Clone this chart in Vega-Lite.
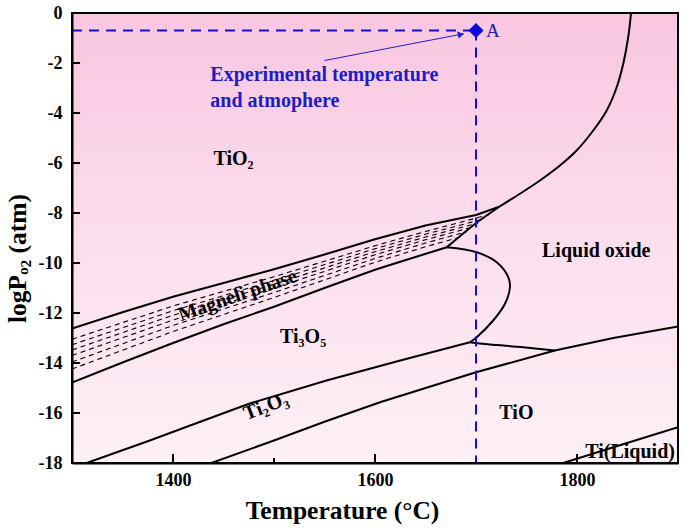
{
  "$schema": "https://vega.github.io/schema/vega-lite/v6.json",
  "width": 606,
  "height": 450,
  "autosize": {"type": "none"},
  "padding": {"left": 72, "top": 13, "right": 7, "bottom": 65},
  "background": "white",
  "config": {
    "view": {"stroke": null},
    "font": "Liberation Serif",
    "axis": {
      "grid": false,
      "domainColor": "black",
      "domainWidth": 2,
      "tickColor": "black",
      "tickWidth": 2,
      "labelFont": "Liberation Serif",
      "labelFontWeight": "bold",
      "labelFontSize": 18,
      "labelColor": "black",
      "titleFont": "Liberation Serif",
      "titleFontWeight": "bold",
      "titleFontSize": 25.5,
      "titleColor": "black"
    }
  },
  "datasets": {
    "bg": [{"T": 1300, "T2": 1900, "P": 0, "P2": -18}],
    "curves": [
      {"id": "c1", "o": 1, "T": 1300, "P": -12.62},
      {"id": "c1", "o": 2, "T": 1350, "P": -11.97},
      {"id": "c1", "o": 3, "T": 1400, "P": -11.35},
      {"id": "c1", "o": 4, "T": 1450, "P": -10.8},
      {"id": "c1", "o": 5, "T": 1500, "P": -10.25},
      {"id": "c1", "o": 6, "T": 1550, "P": -9.66},
      {"id": "c1", "o": 7, "T": 1600, "P": -9.05},
      {"id": "c1", "o": 8, "T": 1650, "P": -8.5},
      {"id": "c1", "o": 9, "T": 1700, "P": -8.08},
      {"id": "c1", "o": 10, "T": 1723, "P": -7.75},
      {"id": "c2", "o": 1, "T": 1300, "P": -14.78},
      {"id": "c2", "o": 2, "T": 1350, "P": -13.98},
      {"id": "c2", "o": 3, "T": 1400, "P": -13.2},
      {"id": "c2", "o": 4, "T": 1450, "P": -12.45},
      {"id": "c2", "o": 5, "T": 1500, "P": -11.75},
      {"id": "c2", "o": 6, "T": 1550, "P": -11.0},
      {"id": "c2", "o": 7, "T": 1600, "P": -10.27},
      {"id": "c2", "o": 8, "T": 1625, "P": -9.95},
      {"id": "c2", "o": 9, "T": 1671, "P": -9.37},
      {"id": "c2", "o": 10, "T": 1687, "P": -8.83},
      {"id": "c2", "o": 11, "T": 1701, "P": -8.37},
      {"id": "c2", "o": 12, "T": 1723, "P": -7.75},
      {"id": "c5", "o": 1, "T": 1314.5, "P": -18},
      {"id": "c5", "o": 2, "T": 1377, "P": -17.1},
      {"id": "c5", "o": 3, "T": 1427, "P": -16.35},
      {"id": "c5", "o": 4, "T": 1476, "P": -15.62},
      {"id": "c5", "o": 5, "T": 1552, "P": -14.7},
      {"id": "c5", "o": 6, "T": 1625, "P": -13.9},
      {"id": "c5", "o": 7, "T": 1694, "P": -13.17},
      {"id": "c6", "o": 1, "T": 1438, "P": -18},
      {"id": "c6", "o": 2, "T": 1500, "P": -17.1},
      {"id": "c6", "o": 3, "T": 1550, "P": -16.35},
      {"id": "c6", "o": 4, "T": 1605, "P": -15.57},
      {"id": "c6", "o": 5, "T": 1700, "P": -14.37},
      {"id": "c6", "o": 6, "T": 1778, "P": -13.5},
      {"id": "c6", "o": 7, "T": 1836, "P": -13.0},
      {"id": "c6", "o": 8, "T": 1900, "P": -12.54},
      {"id": "c8", "o": 1, "T": 1786.4, "P": -18},
      {"id": "c8", "o": 2, "T": 1836, "P": -17.37},
      {"id": "c8", "o": 3, "T": 1900, "P": -16.57}
    ],
    "smooth": [
      {"id": "c3", "o": 1, "T": 1723, "P": -7.75},
      {"id": "c3", "o": 2, "T": 1743.5, "P": -7.23},
      {"id": "c3", "o": 3, "T": 1763.3, "P": -6.7},
      {"id": "c3", "o": 4, "T": 1783.1, "P": -6.1},
      {"id": "c3", "o": 5, "T": 1799.6, "P": -5.5},
      {"id": "c3", "o": 6, "T": 1816.1, "P": -4.7},
      {"id": "c3", "o": 7, "T": 1829.4, "P": -3.9},
      {"id": "c3", "o": 8, "T": 1839.3, "P": -2.97},
      {"id": "c3", "o": 9, "T": 1845.8, "P": -2.03},
      {"id": "c3", "o": 10, "T": 1850.7, "P": -0.97},
      {"id": "c3", "o": 11, "T": 1853.5, "P": 0},
      {"id": "c4", "o": 1, "T": 1671, "P": -9.37},
      {"id": "c4", "o": 2, "T": 1700.7, "P": -9.57},
      {"id": "c4", "o": 3, "T": 1720.5, "P": -9.97},
      {"id": "c4", "o": 4, "T": 1732, "P": -10.57},
      {"id": "c4", "o": 5, "T": 1733.6, "P": -10.97},
      {"id": "c4", "o": 6, "T": 1728.7, "P": -11.63},
      {"id": "c4", "o": 7, "T": 1717, "P": -12.3},
      {"id": "c4", "o": 8, "T": 1700.7, "P": -12.97},
      {"id": "c4", "o": 9, "T": 1694, "P": -13.17},
      {"id": "c7", "o": 1, "T": 1694, "P": -13.17},
      {"id": "c7", "o": 2, "T": 1700.7, "P": -13.21},
      {"id": "c7", "o": 3, "T": 1746.8, "P": -13.37},
      {"id": "c7", "o": 4, "T": 1778, "P": -13.5}
    ],
    "magneli": [
      {"id": "d1", "o": 1, "T": 1300, "P": -13.05},
      {"id": "d1", "o": 2, "T": 1400, "P": -11.72},
      {"id": "d1", "o": 3, "T": 1500, "P": -10.55},
      {"id": "d1", "o": 4, "T": 1600, "P": -9.31},
      {"id": "d1", "o": 5, "T": 1650, "P": -8.74},
      {"id": "d1", "o": 6, "T": 1712.6, "P": -8.07},
      {"id": "d2", "o": 1, "T": 1300, "P": -13.27},
      {"id": "d2", "o": 2, "T": 1400, "P": -11.91},
      {"id": "d2", "o": 3, "T": 1500, "P": -10.7},
      {"id": "d2", "o": 4, "T": 1600, "P": -9.43},
      {"id": "d2", "o": 5, "T": 1650, "P": -8.85},
      {"id": "d2", "o": 6, "T": 1707.4, "P": -8.24},
      {"id": "d3", "o": 1, "T": 1300, "P": -13.48},
      {"id": "d3", "o": 2, "T": 1400, "P": -12.09},
      {"id": "d3", "o": 3, "T": 1500, "P": -10.85},
      {"id": "d3", "o": 4, "T": 1600, "P": -9.55},
      {"id": "d3", "o": 5, "T": 1650, "P": -8.96},
      {"id": "d3", "o": 6, "T": 1702.2, "P": -8.4},
      {"id": "d4", "o": 1, "T": 1300, "P": -13.7},
      {"id": "d4", "o": 2, "T": 1400, "P": -12.28},
      {"id": "d4", "o": 3, "T": 1500, "P": -11.0},
      {"id": "d4", "o": 4, "T": 1600, "P": -9.67},
      {"id": "d4", "o": 5, "T": 1650, "P": -9.07},
      {"id": "d4", "o": 6, "T": 1697, "P": -8.56},
      {"id": "d5", "o": 1, "T": 1300, "P": -13.96},
      {"id": "d5", "o": 2, "T": 1400, "P": -12.5},
      {"id": "d5", "o": 3, "T": 1500, "P": -11.18},
      {"id": "d5", "o": 4, "T": 1600, "P": -9.82},
      {"id": "d5", "o": 5, "T": 1650, "P": -9.2},
      {"id": "d5", "o": 6, "T": 1690.8, "P": -8.75},
      {"id": "d6", "o": 1, "T": 1300, "P": -14.24},
      {"id": "d6", "o": 2, "T": 1400, "P": -12.74},
      {"id": "d6", "o": 3, "T": 1500, "P": -11.38},
      {"id": "d6", "o": 4, "T": 1600, "P": -9.97},
      {"id": "d6", "o": 5, "T": 1650, "P": -9.35},
      {"id": "d6", "o": 6, "T": 1684, "P": -8.97}
    ],
    "guide": [
      {"id": "h", "o": 1, "T": 1300, "P": -0.7},
      {"id": "h", "o": 2, "T": 1700, "P": -0.7},
      {"id": "v", "o": 1, "T": 1700, "P": -0.7},
      {"id": "v", "o": 2, "T": 1700, "P": -18}
    ],
    "arrow": [
      {"o": 1, "T": 1550, "P": -1.9},
      {"o": 2, "T": 1688, "P": -0.83}
    ],
    "arrowhead": [{"T": 1685, "P": -0.86}],
    "pointA": [{"T": 1700, "P": -0.7, "label": "A"}],
    "ticks": [
      {"T": 1300, "T2": 1308, "P": 0},
      {"T": 1300, "T2": 1308, "P": -2},
      {"T": 1300, "T2": 1308, "P": -4},
      {"T": 1300, "T2": 1308, "P": -6},
      {"T": 1300, "T2": 1308, "P": -8},
      {"T": 1300, "T2": 1308, "P": -10},
      {"T": 1300, "T2": 1308, "P": -12},
      {"T": 1300, "T2": 1308, "P": -14},
      {"T": 1300, "T2": 1308, "P": -16}
    ],
    "xTicks": [
      {"T": 1400, "P": -18, "P2": -17.64},
      {"T": 1500, "P": -18, "P2": -17.8},
      {"T": 1600, "P": -18, "P2": -17.64},
      {"T": 1700, "P": -18, "P2": -17.8},
      {"T": 1800, "P": -18, "P2": -17.64}
    ],
    "blueText": [
      {"T": 1437, "P": -2.46, "label": "Experimental temperature"},
      {"T": 1437, "P": -3.5, "label": "and atmophere"}
    ],
    "leftText": [
      {"T": 1440, "P": -5.85, "label": "TiO₂"},
      {"T": 1506, "P": -12.95, "label": "Ti₃O₅"}
    ],
    "centerText": [
      {"T": 1819, "P": -9.5, "label": "Liquid oxide"},
      {"T": 1740, "P": -16.0, "label": "TiO"}
    ],
    "rightText": [
      {"T": 1897, "P": -17.55, "label": "Ti(Liquid)"}
    ],
    "magneliText": [
      {"T": 1464, "P": -11.3, "label": "Magneli phase"}
    ],
    "ti2o3Text": [
      {"T": 1492, "P": -15.74, "label": "Ti₂O₃"}
    ]
  },
  "encoding": {
    "x": {
      "field": "T",
      "type": "quantitative",
      "scale": {"domain": [1300, 1900], "nice": false, "zero": false},
      "axis": {
        "title": "Temperature (°C)",
        "values": [1400, 1600, 1800],
        "format": "d",
        "ticks": false,
        "labelPadding": 8,
        "titlePadding": 9,
        "titleX": 270,
        "zindex": 1
      }
    },
    "y": {
      "field": "P",
      "type": "quantitative",
      "scale": {"domain": [-18, 0], "nice": false, "zero": false},
      "axis": {
        "title": "logPₒ₂ (atm)",
        "values": [0, -2, -4, -6, -8, -10, -12, -14, -16, -18],
        "labelExpr": "datum.value == 0 ? '0' : '-' + abs(datum.value)",
        "ticks": false,
        "labelPadding": 10,
        "titlePadding": 8,
        "titleY": 245,
        "zindex": 1
      }
    }
  },
  "layer": [
    {
      "data": {"name": "bg"},
      "mark": {
        "type": "rect",
        "stroke": "black",
        "strokeWidth": 2,
        "color": {
          "gradient": "linear",
          "x1": 0, "y1": 0, "x2": 0, "y2": 1,
          "stops": [
            {"offset": 0, "color": "#f9c6e0"},
            {"offset": 0.5, "color": "#fcdeed"},
            {"offset": 1, "color": "#fdf0f6"}
          ]
        }
      },
      "encoding": {
        "x2": {"field": "T2"},
        "y2": {"field": "P2"}
      }
    },
    {
      "data": {"name": "magneli"},
      "mark": {"type": "line", "color": "black", "strokeWidth": 1.1, "strokeDash": [5, 4], "clip": true},
      "encoding": {"detail": {"field": "id"}, "order": {"field": "o"}}
    },
    {
      "data": {"name": "curves"},
      "mark": {"type": "line", "color": "black", "strokeWidth": 2, "clip": true},
      "encoding": {"detail": {"field": "id"}, "order": {"field": "o"}}
    },
    {
      "data": {"name": "smooth"},
      "mark": {"type": "line", "color": "black", "strokeWidth": 2, "interpolate": "catmull-rom", "clip": true},
      "encoding": {"detail": {"field": "id"}, "order": {"field": "o"}}
    },
    {
      "data": {"name": "ticks"},
      "mark": {"type": "rule", "color": "black", "strokeWidth": 2},
      "encoding": {"x2": {"field": "T2"}}
    },
    {
      "data": {"name": "xTicks"},
      "mark": {"type": "rule", "color": "black", "strokeWidth": 2},
      "encoding": {"y2": {"field": "P2"}}
    },
    {
      "data": {"name": "guide"},
      "mark": {"type": "line", "color": "#1010d8", "strokeWidth": 2, "strokeDash": [10, 7]},
      "encoding": {"detail": {"field": "id"}, "order": {"field": "o"}}
    },
    {
      "data": {"name": "arrow"},
      "mark": {"type": "line", "color": "#2020c0", "strokeWidth": 1},
      "encoding": {"order": {"field": "o"}}
    },
    {
      "data": {"name": "arrowhead"},
      "mark": {"type": "point", "shape": "triangle-right", "filled": true, "color": "#2020c0", "size": 50, "angle": 349, "opacity": 1}
    },
    {
      "data": {"name": "pointA"},
      "mark": {"type": "point", "shape": "diamond", "filled": true, "color": "#0a0ae0", "size": 230, "opacity": 1}
    },
    {
      "data": {"name": "pointA"},
      "mark": {"type": "text", "align": "left", "baseline": "middle", "dx": 10, "font": "Liberation Serif", "fontSize": 19, "color": "#2020c0"},
      "encoding": {"text": {"field": "label"}}
    },
    {
      "data": {"name": "blueText"},
      "mark": {"type": "text", "align": "left", "baseline": "middle", "font": "Liberation Serif", "fontWeight": "bold", "fontSize": 20, "color": "#1c1cc8"},
      "encoding": {"text": {"field": "label"}}
    },
    {
      "data": {"name": "leftText"},
      "mark": {"type": "text", "align": "left", "baseline": "middle", "font": "Liberation Serif", "fontWeight": "bold", "fontSize": 20, "color": "black"},
      "encoding": {"text": {"field": "label"}}
    },
    {
      "data": {"name": "centerText"},
      "mark": {"type": "text", "align": "center", "baseline": "middle", "font": "Liberation Serif", "fontWeight": "bold", "fontSize": 20, "color": "black"},
      "encoding": {"text": {"field": "label"}}
    },
    {
      "data": {"name": "rightText"},
      "mark": {"type": "text", "align": "right", "baseline": "middle", "font": "Liberation Serif", "fontWeight": "bold", "fontSize": 20, "color": "black"},
      "encoding": {"text": {"field": "label"}}
    },
    {
      "data": {"name": "magneliText"},
      "mark": {"type": "text", "align": "center", "baseline": "middle", "angle": 341, "font": "Liberation Serif", "fontWeight": "bold", "fontSize": 20, "color": "black"},
      "encoding": {"text": {"field": "label"}}
    },
    {
      "data": {"name": "ti2o3Text"},
      "mark": {"type": "text", "align": "center", "baseline": "middle", "angle": 339, "font": "Liberation Serif", "fontWeight": "bold", "fontSize": 20, "color": "black"},
      "encoding": {"text": {"field": "label"}}
    }
  ]
}
